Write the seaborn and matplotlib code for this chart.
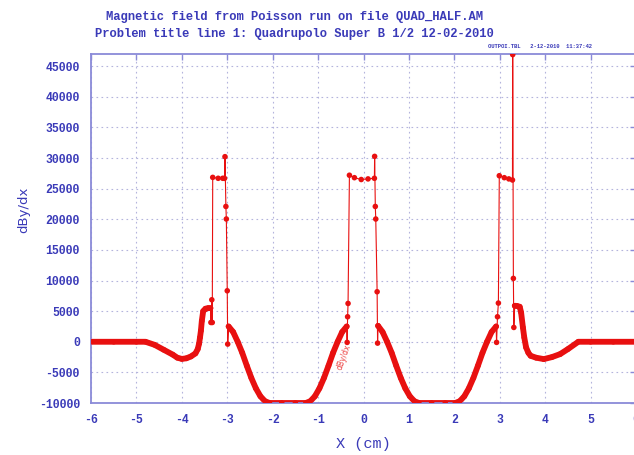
import numpy as np
import pandas as pd
import matplotlib
matplotlib.use("Agg")
import matplotlib.pyplot as plt
import seaborn as sns

# ---- data ----
# full trace (thin connecting line + point markers)
trace_x = [-6.0, -5.5, -5.0, -4.8, -4.6, -4.4, -4.2, -4.1, -4.0, -3.9, -3.8, -3.7, -3.65, -3.62,
           -3.60, -3.58, -3.56, -3.53, -3.48, -3.42, -3.37, -3.36, -3.34, -3.33,
           -3.32, -3.2, -3.1, -3.06, -3.05, -3.03, -3.02, -3.00, -2.99, -2.97,
           -2.87, -2.77, -2.67, -2.57, -2.47, -2.37, -2.27, -2.17, -2.07, -1.8, -1.5, -1.27,
           -1.17, -1.07, -0.97, -0.87, -0.77, -0.67, -0.57, -0.47, -0.37,
           -0.36, -0.35, -0.34, -0.31, -0.2, -0.05, 0.1, 0.24, 0.245, 0.26, 0.27, 0.30, 0.31, 0.32,
           0.42, 0.52, 0.62, 0.72, 0.82, 0.92, 1.02, 1.12, 1.22, 1.5, 1.8, 2.02,
           2.12, 2.22, 2.32, 2.42, 2.52, 2.62, 2.72, 2.82, 2.92,
           2.93, 2.95, 2.97, 2.99, 3.1, 3.2, 3.28, 3.285, 3.30, 3.31,
           3.33, 3.38, 3.44, 3.47, 3.51, 3.54, 3.58, 3.63, 3.68, 3.8, 3.97, 4.15, 4.33, 4.5, 4.73,
           5.0, 5.5, 6.0]
trace_y = [0, 0, 0, 0, -500, -1300, -2100, -2600, -2800, -2700, -2400, -1900, -1200, -300,
           700, 1800, 3400, 5000, 5400, 5500, 5500, 3150, 6860, 3150,
           26850, 26700, 26700, 26690, 30230, 22100, 20050, 8330, -380, 2500,
           1600, 0, -1800, -3900, -5900, -7600, -8900, -9700, -10000, -10000, -10000, -10000,
           -9700, -8900, -7600, -5900, -3900, -1800, 0, 1600, 2500,
           -100, 4085, 6260, 27200, 26800, 26500, 26600, 26700, 30280, 22100, 20050, 8170, -220, 2610,
           1600, 0, -1800, -3900, -5900, -7600, -8900, -9700, -10000, -10000, -10000, -10000,
           -9700, -8900, -7600, -5900, -3900, -1800, 0, 1600, 2500,
           -100, 4085, 6320, 27120, 26800, 26600, 26420, 46900, 10350, 2340,
           5880, 5850, 5720, 4790, 2340, 700, -930, -1800, -2290, -2600, -2830, -2500, -2010, -1200, 0,
           0, 0, 0]

# smooth (densely sampled) segments drawn thick
segment_bounds = [(-6.0, -3.37), (-2.97, -0.37), (0.32, 2.92), (3.33, 6.0)]

x_ticks = [-6, -5, -4, -3, -2, -1, 0, 1, 2, 3, 4, 5, 6]
y_ticks = [-10000, -5000, 0, 5000, 10000, 15000, 20000, 25000, 30000, 35000, 40000, 45000]

title1 = "Magnetic field from Poisson run on file QUAD_HALF.AM"
title2 = "Problem title line 1: Quadrupolo Super B 1/2 12-02-2010"
stamp = "OUTPOI.TBL   2-12-2010  11:37:42"

# ---- styling ----
sns.set_style("white")
plt.rcParams['font.family'] = ['Liberation Mono', 'DejaVu Sans Mono']

RED = "#e81010"
AXC = "#8a8ad8"
TXT = "#3a3ab8"

df = pd.DataFrame({"x": trace_x, "y": trace_y})
seg_rows = []
for i, (a, b) in enumerate(segment_bounds):
    sub = df[(df.x >= a) & (df.x <= b)].copy()
    sub["seg"] = i
    seg_rows.append(sub)
seg_df = pd.concat(seg_rows)

fig = plt.figure(figsize=(6.34, 4.55), dpi=100)
ax = fig.add_axes([91/634, 52/455, (636-91)/634, (403-54)/455])

sns.lineplot(data=df, x="x", y="y", sort=False, estimator=None, color=RED, lw=0.8, ax=ax)
sns.lineplot(data=seg_df, x="x", y="y", units="seg", sort=False, estimator=None,
             color=RED, lw=4.2, ax=ax)
sns.scatterplot(data=df, x="x", y="y", color=RED, s=16, edgecolor="none", ax=ax, zorder=5)

ax.set_xlim(-6, 6)
ax.set_ylim(-10000, 47000)
ax.set_xticks(x_ticks)
ax.set_yticks(y_ticks)
ax.set_xticklabels([str(t) for t in x_ticks])
ax.set_yticklabels([str(t) for t in y_ticks])
ax.grid(True, color="#b4b4dc", lw=0.8, linestyle=(0, (1.5, 3)))
for s in ax.spines.values():
    s.set_color(AXC)
    s.set_linewidth(1.3)
ax.tick_params(direction="in", length=4, width=1, color=AXC, top=True, right=True,
               labelsize=8.3, labelcolor=TXT, pad=8)
for lab in ax.get_xticklabels() + ax.get_yticklabels():
    lab.set_fontweight("bold")

ax.set_xlabel("X (cm)", fontsize=11, color=TXT, labelpad=8)
ax.set_ylabel("dBy/dx", fontsize=9.5, color=TXT, family="DejaVu Sans")
ax.yaxis.set_label_coords((30 - 91) / 545, (403 - 210) / (403 - 54))

ax.text(-0.44, -2500, "dBy/dx", color=RED, fontsize=5.5, rotation=70, family="DejaVu Sans",
        ha="center", va="center", alpha=0.8)

fig.text(0.465, 1 - 17/455, title1, ha="center", va="center", fontsize=8.7, fontweight="bold", color=TXT)
fig.text(0.465, 1 - 34/455, title2, ha="center", va="center", fontsize=8.7, fontweight="bold", color=TXT)
fig.text(488/634, 1 - 47/455, stamp, ha="left", va="center", fontsize=4, fontweight="bold", color=TXT)

fig.savefig("out.png", dpi=100)
